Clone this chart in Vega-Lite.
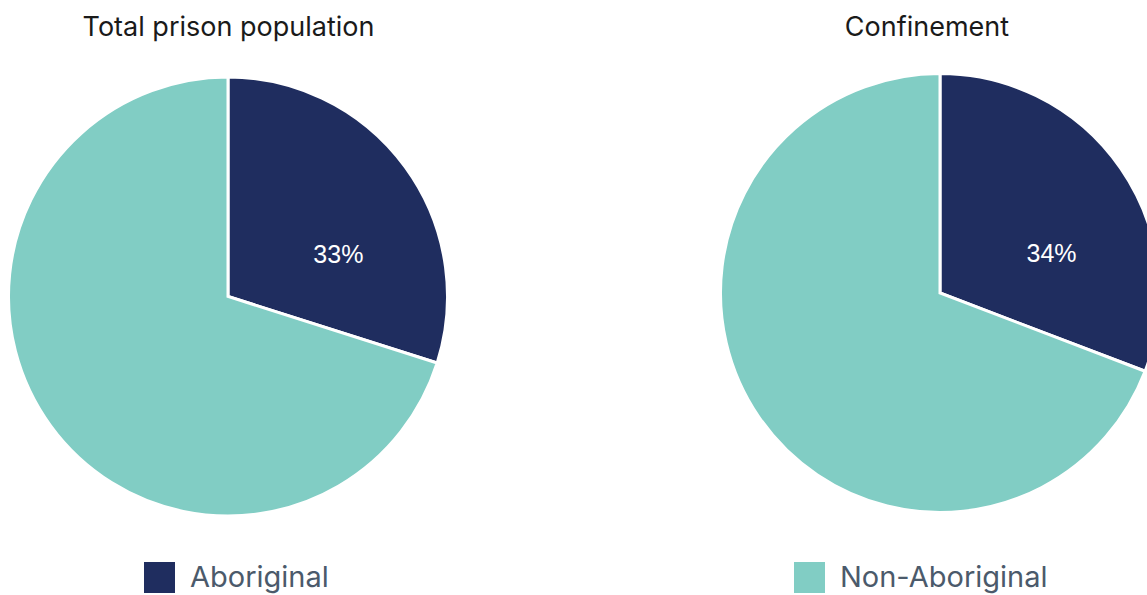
{
  "$schema": "https://vega.github.io/schema/vega-lite/v6.json",
  "width": 1147,
  "height": 595,
  "padding": 0,
  "autosize": {"type": "none"},
  "background": "white",
  "config": {
    "view": {"stroke": null},
    "font": "Inter"
  },
  "datasets": {
    "shares": [
      {"chart": "Total prison population", "group": "Aboriginal", "value": 29.9, "label": "33%"},
      {"chart": "Total prison population", "group": "Non-Aboriginal", "value": 70.1, "label": ""},
      {"chart": "Confinement", "group": "Aboriginal", "value": 30.8, "label": "34%"},
      {"chart": "Confinement", "group": "Non-Aboriginal", "value": 69.2, "label": ""}
    ],
    "titles": [
      {"title": "Total prison population"},
      {"title": "Confinement"}
    ]
  },
  "resolve": {"scale": {"x": "independent", "y": "independent"}},
  "layer": [
    {
      "data": {"name": "shares"},
      "transform": [
        {"stack": "value", "groupby": ["chart"], "sort": [{"field": "group", "order": "ascending"}], "as": ["v0", "v1"]}
      ],
      "mark": {"type": "arc", "outerRadius": 219.5, "stroke": "white", "strokeWidth": 3},
      "encoding": {
        "x": {"field": "chart", "type": "nominal", "axis": null,
              "scale": {"type": "point", "domain": ["Total prison population", "Confinement"], "range": [228, 940], "padding": 0}},
        "y": {"field": "chart", "type": "nominal", "axis": null,
              "scale": {"type": "point", "domain": ["Total prison population", "Confinement"], "range": [296.5, 293], "padding": 0}},
        "theta": {"field": "v0", "type": "quantitative", "stack": null, "scale": {"domain": [0, 100], "range": [0, 6.283185307179586]}},
        "theta2": {"field": "v1"},
        "color": {
          "field": "group", "type": "nominal",
          "scale": {"domain": ["Aboriginal", "Non-Aboriginal"], "range": ["#1f2d5f", "#81cdc4"]},
          "legend": {
            "title": null,
            "orient": "none",
            "legendX": 144,
            "legendY": 562,
            "direction": "horizontal",
            "columns": 2,
            "columnPadding": 465,
            "padding": 0,
            "symbolType": "square",
            "symbolSize": 961,
            "symbolStrokeWidth": 0,
            "symbolOpacity": 1,
            "labelFont": "Inter",
            "labelFontSize": 29,
            "labelColor": "#4b5a6b",
            "labelOffset": 15,
            "labelLimit": 400
          }
        }
      }
    },
    {
      "data": {"name": "shares"},
      "transform": [
        {"stack": "value", "groupby": ["chart"], "sort": [{"field": "group", "order": "ascending"}], "as": ["v0", "v1"]},
        {"filter": "datum.label != ''"},
        {"calculate": "(datum.v0 + datum.v1) / 2", "as": "mid"}
      ],
      "mark": {"type": "text", "radius": 118, "thetaOffset": 0.27, "font": "Liberation Sans", "fontSize": 25, "color": "white", "align": "center", "baseline": "middle"},
      "encoding": {
        "x": {"field": "chart", "type": "nominal", "axis": null,
              "scale": {"type": "point", "domain": ["Total prison population", "Confinement"], "range": [228, 940], "padding": 0}},
        "y": {"field": "chart", "type": "nominal", "axis": null,
              "scale": {"type": "point", "domain": ["Total prison population", "Confinement"], "range": [296.5, 293], "padding": 0}},
        "theta": {"field": "mid", "type": "quantitative", "stack": null, "scale": {"domain": [0, 100], "range": [0, 6.283185307179586]}},
        "text": {"field": "label", "type": "nominal"}
      }
    },
    {
      "data": {"name": "titles"},
      "mark": {"type": "text", "font": "Inter", "fontSize": 27, "color": "#1a1a1a", "align": "center", "baseline": "middle"},
      "encoding": {
        "x": {"field": "title", "type": "nominal", "axis": null,
              "scale": {"type": "point", "domain": ["Total prison population", "Confinement"], "range": [228.5, 927], "padding": 0}},
        "y": {"value": 28},
        "text": {"field": "title", "type": "nominal"}
      }
    }
  ]
}
